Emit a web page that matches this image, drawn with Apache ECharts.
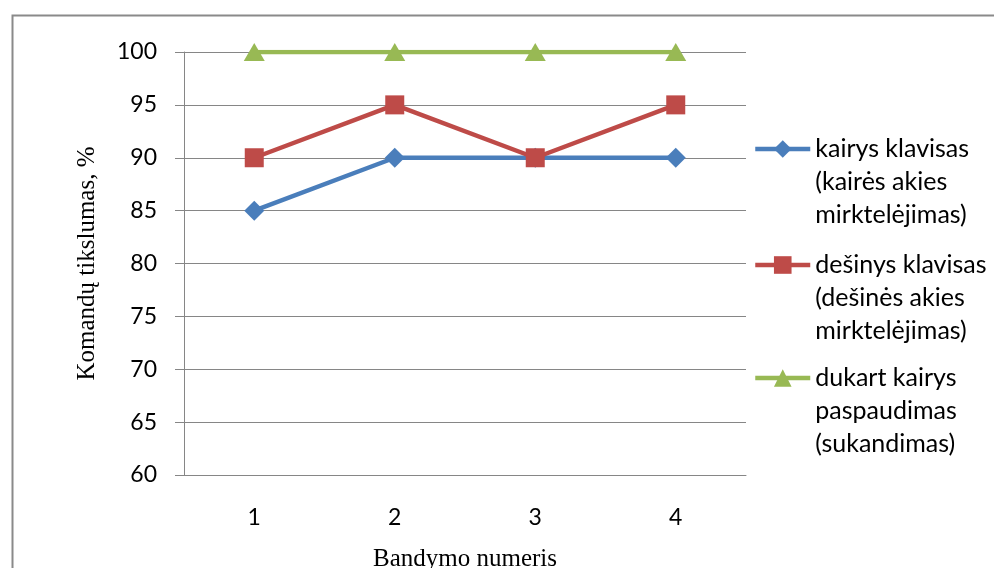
<!DOCTYPE html>
<html>
<head>
<meta charset="utf-8">
<script src="https://cdn.jsdelivr.net/npm/echarts@6/dist/echarts.min.js"></script>
<style>
  html, body { margin: 0; padding: 0; background: #ffffff; }
  #chart { width: 994px; height: 568px; }
</style>
</head>
<body>
<div id="chart"></div>
<script>
// Trial numbers along the x axis
const categories = ['1', '2', '3', '4'];

// Command accuracy (%) per trial for each input method
const kairysKlavisas = [85, 90, 90, 90];
const desinysKlavisas = [90, 95, 90, 95];
const dukartKairys = [100, 100, 100, 100];

const seriesNames = [
  'kairys klavisas\n(kairės akies\nmirktelėjimas)',
  'dešinys klavisas\n(dešinės akies\nmirktelėjimas)',
  'dukart kairys\npaspaudimas\n(sukandimas)'
];

const yMin = 60, yMax = 100, yStep = 5;

const gridColor = '#868686';
const sansFont = 'Lato';
const serifFont = '"Liberation Serif", "DejaVu Serif", serif';

const LINE_H = 33;
const ITEM_H = 22;
const LINE_W = 4.5;

// One legend block per series so each entry can sit at its own height.
// Two blank lines are put above the label so the vertically centred text
// block has its first real line level with the icon.
function legendBlock(name, firstLineY) {
  const blockTop = firstLineY - 2.5 * LINE_H;
  return {
    data: [name],
    orient: 'vertical',
    left: 753,
    top: blockTop,
    padding: 0,
    itemWidth: 55,
    itemHeight: ITEM_H,
    selectedMode: false,
    formatter: function (n) { return '\n\n' + n; },
    lineStyle: { width: LINE_W },
    textStyle: {
      fontFamily: sansFont,
      fontSize: 25,
      color: '#000000',
      lineHeight: LINE_H
    }
  };
}

const chart = echarts.init(document.getElementById('chart'), null, { renderer: 'canvas' });

chart.setOption({
  backgroundColor: '#ffffff',
  animation: false,
  graphic: [{
    type: 'rect',
    left: 10,
    top: 13,
    shape: { width: 1020, height: 620 },
    style: { fill: 'none', stroke: '#8a8a8a', lineWidth: 2 },
    silent: true,
    z: -1
  }],
  grid: { left: 184, right: 248, top: 52, bottom: 93, outerBoundsMode: 'none', containLabel: false },
  legend: [
    legendBlock(seriesNames[0], 149),
    legendBlock(seriesNames[1], 265),
    legendBlock(seriesNames[2], 378)
  ],
  xAxis: {
    type: 'category',
    data: categories,
    boundaryGap: true,
    name: 'Bandymo numeris',
    nameLocation: 'middle',
    nameGap: 72,
    nameTextStyle: { fontFamily: serifFont, fontSize: 25, color: '#000000' },
    axisLine: { lineStyle: { color: gridColor, width: 1 } },
    axisTick: { show: false },
    axisLabel: { margin: 31, fontFamily: sansFont, fontSize: 23, color: '#000000' },
    splitLine: { show: false }
  },
  yAxis: {
    type: 'value',
    min: yMin,
    max: yMax,
    interval: yStep,
    name: 'Komandų tikslumas, %',
    nameLocation: 'middle',
    nameGap: 84,
    nameTextStyle: { fontFamily: serifFont, fontSize: 25, color: '#000000' },
    axisLine: { show: true, lineStyle: { color: gridColor, width: 1 } },
    axisTick: { show: true, length: 9, lineStyle: { color: gridColor, width: 1 } },
    axisLabel: { margin: 27, fontFamily: sansFont, fontSize: 23, color: '#000000' },
    splitLine: { show: true, lineStyle: { color: gridColor, width: 1 } }
  },
  series: [
    {
      name: seriesNames[0],
      type: 'line',
      data: kairysKlavisas,
      symbol: 'diamond',
      symbolSize: 20,
      color: '#4a7ebb',
      lineStyle: { width: LINE_W, color: '#4a7ebb' },
      itemStyle: { color: '#4a7ebb' }
    },
    {
      name: seriesNames[1],
      type: 'line',
      data: desinysKlavisas,
      symbol: 'rect',
      symbolSize: 19,
      color: '#be4b48',
      lineStyle: { width: LINE_W, color: '#be4b48' },
      itemStyle: { color: '#be4b48' }
    },
    {
      name: seriesNames[2],
      type: 'line',
      data: dukartKairys,
      symbol: 'triangle',
      symbolSize: [21, 18],
      color: '#98b954',
      lineStyle: { width: LINE_W, color: '#98b954' },
      itemStyle: { color: '#98b954' }
    }
  ]
});
</script>
</body>
</html>
